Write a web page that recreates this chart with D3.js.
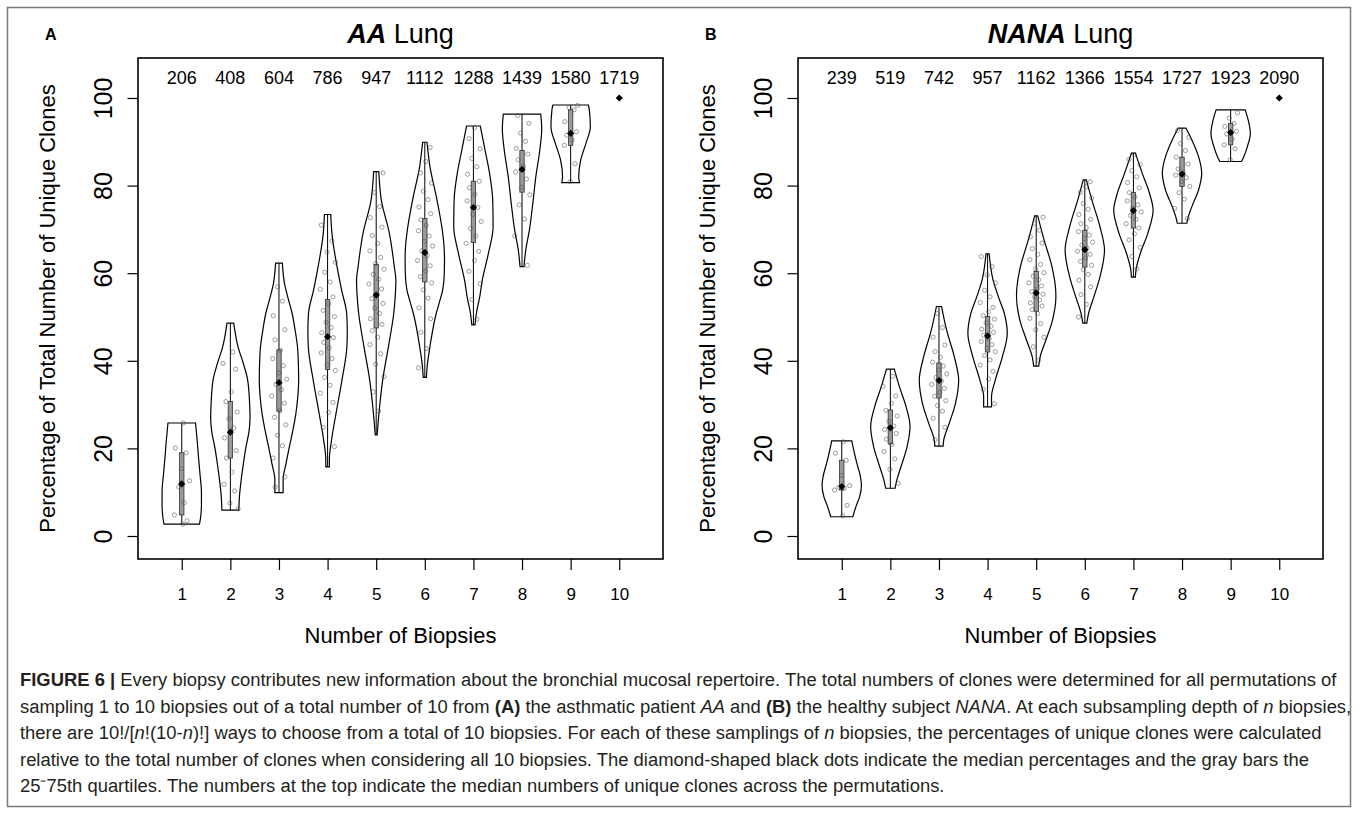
<!DOCTYPE html>
<html>
<head>
<meta charset="utf-8">
<script src="https://cdn.jsdelivr.net/npm/d3@7"></script>
<style>
  body { margin: 0; background: #fff; }
  svg { display: block; font-family: 'Liberation Sans', Arial, Helvetica, sans-serif; }
</style>
</head>
<body>
<div id="chart"></div>
<script>
// number of biopsies sampled (x categories)
const biopsies = [1, 2, 3, 4, 5, 6, 7, 8, 9, 10]
const yTicks = [0, 20, 40, 60, 80, 100]

// median numbers of unique clones (printed along the top)
const aaCounts = [206, 408, 604, 786, 947, 1112, 1288, 1439, 1580, 1719]
const nanaCounts = [239, 519, 742, 957, 1162, 1366, 1554, 1727, 1923, 2090]

// median and quartiles of the percentage of unique clones
const aaMedian = [11.9, 23.7, 35.0, 45.5, 55.0, 64.7, 75.0, 83.7, 91.9, 100]
const aaQ1 = [4.8, 17.8, 28.5, 38.0, 47.5, 58.0, 67.0, 78.5, 89.2, 100]
const aaQ3 = [19.0, 30.7, 42.5, 54.0, 62.0, 72.5, 81.0, 88.0, 97.3, 100]

const nanaMedian = [11.3, 24.7, 35.5, 45.7, 55.5, 65.4, 74.3, 82.6, 92.1, 100]
const nanaQ1 = [10.5, 21.0, 31.5, 42.0, 51.3, 61.4, 70.3, 79.8, 89.3, 100]
const nanaQ3 = [17.3, 28.8, 39.5, 50.1, 60.4, 69.8, 78.4, 86.5, 94.2, 100]

// violin outlines: [percentage, relative density] from min to max
const aaProfiles = [
  [[2.7, 0.90], [4, 0.95], [7, 1.0], [10, 1.0], [14, 0.93], [18, 0.85], [22, 0.78], [25.8, 0.70]],
  [[5.9, 0.43], [8.9, 0.46], [12.8, 0.55], [15.5, 0.63], [20, 0.78], [24, 0.95], [27, 1.0], [30, 0.98], [35.6, 0.88], [39.5, 0.65], [43.2, 0.39], [48.6, 0.17]],
  [[9.9, 0.21], [12.8, 0.21], [16.6, 0.36], [20.4, 0.53], [24, 0.70], [28, 0.86], [32, 0.96], [35.6, 1.0], [40, 0.98], [43.2, 0.94], [47, 0.82], [50.8, 0.67], [54, 0.48], [57.7, 0.28], [62.3, 0.17]],
  [[15.8, 0.09], [17.4, 0.09], [21.9, 0.20], [28, 0.43], [35.6, 0.73], [43.2, 0.98], [47, 1.0], [50.8, 0.97], [56.2, 0.71], [61.5, 0.48], [69.1, 0.22], [73.4, 0.16]],
  [[23.1, 0.05], [28, 0.14], [35.6, 0.33], [43.2, 0.62], [50.8, 0.89], [55, 0.97], [58.4, 1.0], [61.5, 0.92], [69.1, 0.67], [76.7, 0.26], [83.2, 0.13]],
  [[36.2, 0.08], [38.7, 0.12], [43.2, 0.26], [50.8, 0.58], [53.5, 0.75], [56.2, 0.91], [60, 0.99], [63, 1.0], [66, 0.98], [69.1, 0.91], [76.7, 0.62], [84.4, 0.26], [89.9, 0.11]],
  [[48.2, 0.08], [50.8, 0.15], [54.6, 0.32], [58.4, 0.45], [64.5, 0.76], [70.6, 1.0], [76.7, 0.98], [82.8, 0.82], [88.1, 0.59], [93.6, 0.35]],
  [[61.5, 0.10], [65, 0.18], [70, 0.38], [76, 0.55], [82, 0.70], [88, 0.90], [93, 1.0], [96.3, 0.95]],
  [[80.7, 0.45], [82, 0.41], [85.8, 0.51], [89.7, 0.78], [93.4, 1.0], [97.3, 0.95], [98.4, 0.90]],
  null
]

const nanaProfiles = [
  [[4.4, 0.56], [6.7, 0.72], [9, 0.91], [11.6, 1.0], [13.5, 0.95], [16.6, 0.77], [19, 0.64], [21.7, 0.51]],
  [[10.9, 0.24], [12.8, 0.33], [15.8, 0.54], [20.4, 0.85], [25, 1.0], [29.5, 0.80], [34.1, 0.46], [38.1, 0.20]],
  [[20.5, 0.21], [21.9, 0.24], [25.7, 0.52], [30.3, 0.84], [35.6, 1.0], [40.9, 0.78], [47, 0.39], [52.4, 0.13]],
  [[29.5, 0.20], [31.8, 0.20], [35.6, 0.39], [40.9, 0.75], [46.3, 1.0], [50.8, 0.85], [54.6, 0.55], [58.4, 0.28], [64.4, 0.08]],
  [[38.8, 0.13], [40.9, 0.20], [44.7, 0.49], [49.3, 0.83], [54.6, 1.0], [56.2, 0.99], [61.5, 0.80], [67.6, 0.40], [73.1, 0.08]],
  [[48.6, 0.10], [50.8, 0.19], [54.6, 0.46], [59, 0.76], [65.3, 1.0], [70.6, 0.77], [76.7, 0.36], [81.3, 0.08]],
  [[59.1, 0.10], [60.7, 0.13], [64.5, 0.35], [69.1, 0.73], [74.4, 1.0], [78.2, 0.82], [82.8, 0.45], [87.4, 0.10]],
  [[71.4, 0.24], [72.9, 0.32], [75.2, 0.50], [79, 0.84], [82.8, 1.0], [86.6, 0.84], [90.4, 0.50], [93.1, 0.20]],
  [[85.5, 0.55], [86.6, 0.67], [88.9, 0.85], [91.9, 1.0], [95, 0.89], [97.3, 0.74]],
  null
]

// individual permutation percentages (a readable subset of the jittered points)
const aaPoints = [
  [2.7, 3.5, 4.8, 7.6, 11.2, 12.6, 15.4, 19.0, 20.1, 25.8],
  [6.2, 7.5, 10.3, 11.8, 14.6, 17.8, 19.5, 22.4, 24.6, 26.8, 28.3, 30.7, 32.9, 38.1, 39.4, 42.0],
  [11.2, 13.5, 17.8, 20.6, 23.0, 25.4, 27.1, 28.6, 30.3, 32.0, 33.4, 34.6, 35.8, 37.2, 38.9, 40.5, 42.4, 44.8, 47.1, 50.3, 53.6, 56.9],
  [20.4, 24.8, 28.2, 30.5, 32.6, 34.4, 36.2, 37.8, 39.1, 40.5, 41.8, 43.0, 44.2, 45.3, 46.4, 47.6, 48.8, 50.1, 51.5, 53.0, 54.6, 56.3, 58.0, 60.2, 62.5, 64.8, 67.3, 71.0],
  [28.5, 32.9, 36.4, 39.2, 41.6, 43.7, 45.4, 46.9, 48.3, 49.6, 50.8, 52.0, 53.1, 54.2, 55.3, 56.4, 57.5, 58.6, 59.7, 60.9, 62.2, 63.6, 65.1, 66.8, 68.6, 70.5, 72.7, 75.2, 78.4, 82.9],
  [38.4, 42.8, 46.5, 49.6, 52.1, 54.3, 56.2, 57.8, 59.2, 60.5, 61.7, 62.9, 64.0, 65.1, 66.2, 67.3, 68.5, 69.7, 70.9, 72.2, 73.6, 75.1, 76.8, 78.7, 80.6, 82.9, 85.5, 88.7],
  [49.5, 54.0, 57.6, 60.4, 62.9, 65.0, 66.8, 68.5, 70.2, 71.8, 73.4, 75.0, 76.5, 78.0, 79.5, 81.0, 82.6, 84.3, 86.2, 88.4, 90.7, 93.2],
  [61.8, 68.5, 72.4, 75.6, 77.9, 79.6, 81.5, 83.1, 84.4, 85.9, 87.2, 88.5, 90.1, 92.0, 94.2, 96.0],
  [80.9, 85.0, 89.2, 90.4, 91.5, 92.3, 94.6, 97.3, 97.8, 98.3],
  []
]

const nanaPoints = [
  [4.6, 7.0, 10.5, 10.9, 11.1, 11.5, 13.8, 17.3, 18.9, 21.5],
  [12.0, 15.2, 17.6, 19.3, 20.9, 22.1, 23.4, 24.3, 25.1, 26.2, 27.4, 28.7, 30.3, 32.0, 34.2, 36.5],
  [22.0, 24.8, 26.9, 28.5, 29.8, 30.9, 31.9, 32.8, 33.7, 34.6, 35.4, 36.2, 37.0, 37.9, 38.8, 39.7, 40.8, 42.1, 43.6, 45.4, 47.6, 50.8],
  [30.2, 33.5, 35.8, 37.6, 39.0, 40.2, 41.2, 42.1, 42.9, 43.7, 44.4, 45.1, 45.8, 46.5, 47.2, 47.9, 48.7, 49.5, 50.3, 51.2, 52.2, 53.3, 54.6, 56.1, 57.8, 59.6, 61.5, 63.8],
  [40.1, 43.2, 45.4, 47.1, 48.5, 49.7, 50.8, 51.7, 52.5, 53.2, 53.9, 54.6, 55.2, 55.8, 56.4, 57.1, 57.8, 58.5, 59.3, 60.1, 61.0, 62.0, 63.1, 64.3, 65.6, 66.9, 68.3, 69.8, 71.4, 72.8],
  [50.0, 52.9, 55.1, 56.9, 58.4, 59.7, 60.8, 61.8, 62.7, 63.5, 64.3, 65.0, 65.7, 66.4, 67.1, 67.9, 68.7, 69.5, 70.4, 71.3, 72.3, 73.4, 74.6, 75.9, 77.2, 78.5, 79.7, 80.9],
  [61.0, 63.8, 65.9, 67.6, 69.0, 70.3, 71.3, 72.3, 73.2, 74.0, 74.8, 75.6, 76.5, 77.4, 78.4, 79.5, 80.7, 82.0, 83.4, 84.8, 86.0, 87.1],
  [72.5, 74.8, 76.9, 78.4, 79.8, 80.9, 81.8, 82.4, 82.9, 83.8, 84.9, 86.5, 88.0, 89.6, 91.0, 92.6],
  [85.9, 88.4, 89.3, 90.6, 91.8, 92.4, 93.5, 94.2, 95.4, 96.6],
  []
]

// horizontal jitter of the points, in biopsy units
const jitter = [-0.12, 0.07, -0.03, 0.14, -0.09, 0.02, 0.11, -0.15, 0.05, -0.06, 0.16, -0.01, 0.09, -0.13, 0.03, -0.08, 0.12]

const captionLines = [
  [['FIGURE 6 |', 'b'], [' Every biopsy contributes new information about the bronchial mucosal repertoire. The total numbers of clones were determined for all permutations of', '']],
  [['sampling 1 to 10 biopsies out of a total number of 10 from ', ''], ['(A)', 'b'], [' the asthmatic patient ', ''], ['AA', 'i'], [' and ', ''], ['(B)', 'b'], [' the healthy subject ', ''], ['NANA', 'i'], ['. At each subsampling depth of ', ''], ['n', 'i'], [' biopsies,', '']],
  [['there are 10!/[', ''], ['n', 'i'], ['!(10-', ''], ['n', 'i'], [')!] ways to choose from a total of 10 biopsies. For each of these samplings of ', ''], ['n', 'i'], [' biopsies, the percentages of unique clones were calculated', '']],
  [['relative to the total number of clones when considering all 10 biopsies. The diamond-shaped black dots indicate the median percentages and the gray bars the', '']],
  [['25\u207B75th quartiles. The numbers at the top indicate the median numbers of unique clones across the permutations.', '']]
]

const W = 1360
const H = 814
const violinHalf = 0.405 // max half width, biopsy units

const svg = d3.select('#chart').append('svg')
  .attr('width', W)
  .attr('height', H)

// outer frame
svg.append('rect')
  .attr('x', 7.5).attr('y', 7.5)
  .attr('width', 1343).attr('height', 799)
  .attr('fill', 'none')
  .attr('stroke', '#7a7a7a')
  .attr('stroke-width', 1.5)

function drawPanel (p) {
  const g = svg.append('g').attr('transform', `translate(${p.dx},0)`)

  const x = d3.scaleLinear().domain([0.1, 10.9]).range([138, 663])
  const y = d3.scaleLinear().domain([-5.25, 109.13]).range([559, 58])
  const [x0, x1] = x.range()
  const [yb, yt] = y.range()
  const cx = (x0 + x1) / 2

  // panel letter and title
  g.append('text')
    .attr('x', 45).attr('y', 40)
    .style('font-size', '16px').style('font-weight', 'bold')
    .text(p.letter)

  const title = g.append('text')
    .attr('x', cx).attr('y', 43)
    .attr('text-anchor', 'middle')
    .style('font-size', '27px')
  title.append('tspan').style('font-weight', 'bold').style('font-style', 'italic').text(p.subject)
  title.append('tspan').text(' Lung')

  // axes
  const yAxis = g.append('g')
    .attr('transform', `translate(${x0},0)`)
    .call(d3.axisLeft(y).tickValues(yTicks).tickSize(10.5).tickFormat(d3.format('d')))
  yAxis.select('.domain').remove()
  yAxis.selectAll('line').attr('stroke', '#000').attr('stroke-width', 1.2)
  yAxis.selectAll('text')
    .attr('x', 0).attr('dy', 0)
    .attr('text-anchor', 'middle')
    .attr('transform', 'translate(-26,0) rotate(-90)')
    .attr('fill', '#000')
    .style('font-size', '25px')
    .style('font-family', "'Liberation Sans', Arial, sans-serif")

  const xAxis = g.append('g')
    .attr('transform', `translate(0,${yb})`)
    .call(d3.axisBottom(x).tickValues(biopsies).tickSize(11))
  xAxis.select('.domain').remove()
  xAxis.selectAll('line').attr('stroke', '#000').attr('stroke-width', 1.2)
  xAxis.selectAll('text')
    .attr('y', 41).attr('dy', 0)
    .attr('fill', '#000')
    .style('font-size', '17px')
    .style('font-family', "'Liberation Sans', Arial, sans-serif")

  // plot box
  g.append('rect')
    .attr('x', x0).attr('y', yt)
    .attr('width', x1 - x0).attr('height', yb - yt)
    .attr('fill', 'none')
    .attr('stroke', '#000')
    .attr('stroke-width', 1.6)

  // axis titles
  g.append('text')
    .attr('x', cx).attr('y', 643)
    .attr('text-anchor', 'middle')
    .style('font-size', '22px')
    .text('Number of Biopsies')

  g.append('text')
    .attr('transform', `translate(55,${(yt + yb) / 2}) rotate(-90)`)
    .attr('text-anchor', 'middle')
    .style('font-size', '22px')
    .text('Percentage of Total Number of Unique Clones')

  // median clone counts along the top
  g.selectAll('.count')
    .data(biopsies)
    .join('text')
    .attr('class', 'count')
    .attr('x', d => x(d))
    .attr('y', 83.5)
    .attr('text-anchor', 'middle')
    .style('font-size', '18px')
    .text((d, i) => p.counts[i])

  // violins
  const violins = biopsies.map((b, i) => ({ b, i, profile: p.profiles[i] })).filter(d => d.profile)

  g.selectAll('.violin')
    .data(violins)
    .join('path')
    .attr('class', 'violin')
    .attr('d', d => d3.area()
      .curve(d3.curveMonotoneY)
      .y(e => y(e[0]))
      .x0(e => x(d.b - e[1] * violinHalf))
      .x1(e => x(d.b + e[1] * violinHalf))(d.profile))
    .attr('fill', 'none')
    .attr('stroke', '#000')
    .attr('stroke-width', 1.2)

  // whisker lines (range)
  g.selectAll('.whisker')
    .data(violins)
    .join('line')
    .attr('class', 'whisker')
    .attr('x1', d => x(d.b)).attr('x2', d => x(d.b))
    .attr('y1', d => y(d.profile[0][0]))
    .attr('y2', d => y(d.profile[d.profile.length - 1][0]))
    .attr('stroke', '#000')
    .attr('stroke-width', 1)

  // interquartile bars
  g.selectAll('.iqr')
    .data(violins)
    .join('rect')
    .attr('class', 'iqr')
    .attr('x', d => x(d.b) - 2.2)
    .attr('width', 4.4)
    .attr('y', d => y(p.q3[d.i]))
    .attr('height', d => y(p.q1[d.i]) - y(p.q3[d.i]))
    .attr('fill', '#999')
    .attr('stroke', '#333')
    .attr('stroke-width', 0.8)

  // jittered permutation points
  const pts = p.points.flatMap((vals, i) => vals.map((v, k) => ({ b: biopsies[i], v, k })))
  g.selectAll('.pt')
    .data(pts)
    .join('circle')
    .attr('class', 'pt')
    .attr('cx', d => x(d.b + jitter[(d.k + d.b * 5) % jitter.length]))
    .attr('cy', d => y(d.v))
    .attr('r', 2.1)
    .attr('fill', 'none')
    .attr('stroke', 'rgba(80,80,80,0.6)')
    .attr('stroke-width', 0.9)

  // median diamonds
  g.selectAll('.median')
    .data(biopsies)
    .join('path')
    .attr('class', 'median')
    .attr('d', d3.symbol(d3.symbolSquare, 26))
    .attr('transform', (d, i) => `translate(${x(d)},${y(p.median[i])}) rotate(45)`)
    .attr('fill', '#000')
}

drawPanel({ dx: 0, letter: 'A', subject: 'AA', counts: aaCounts, median: aaMedian, q1: aaQ1, q3: aaQ3, profiles: aaProfiles, points: aaPoints })
drawPanel({ dx: 660, letter: 'B', subject: 'NANA', counts: nanaCounts, median: nanaMedian, q1: nanaQ1, q3: nanaQ3, profiles: nanaProfiles, points: nanaPoints })

// caption
const caption = svg.append('g').style('fill', '#231f20')
const lineY = [686, 712.5, 739, 765.5, 792]
const capLines = caption.selectAll('text')
  .data(captionLines)
  .join('text')
  .attr('x', 20)
  .attr('y', (d, i) => lineY[i])
  .style('font-size', '16px')
capLines.selectAll('tspan')
  .data(d => d)
  .join('tspan')
  .style('font-weight', d => d[1] === 'b' ? 'bold' : null)
  .style('font-style', d => d[1] === 'i' ? 'italic' : null)
  .text(d => d[0])

// fit the first caption line to the measured width of the reference
const firstWidth = capLines.node().getComputedTextLength()
const capSize = 16 * 1318 / firstWidth
capLines.style('font-size', capSize + 'px')
</script>
</body>
</html>
